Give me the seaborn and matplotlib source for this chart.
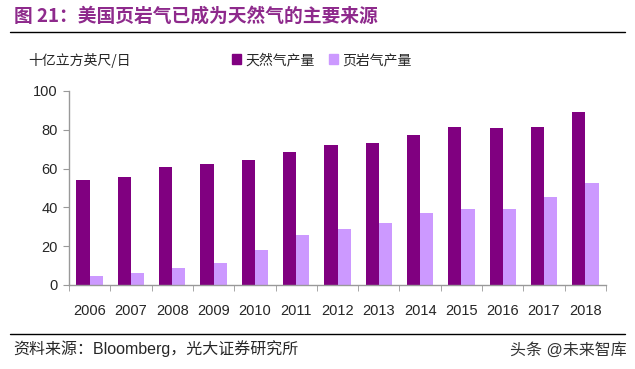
import numpy as np
import pandas as pd
import matplotlib
matplotlib.use("Agg")
import matplotlib.pyplot as plt
import seaborn as sns
from matplotlib.lines import Line2D
from matplotlib.patches import Patch

years = ["2006", "2007", "2008", "2009", "2010", "2011", "2012",
         "2013", "2014", "2015", "2016", "2017", "2018"]
natural_gas = [54.1, 55.7, 60.8, 62.4, 64.4, 68.6, 72.2,
               73.2, 77.3, 81.4, 80.9, 81.4, 89.2]
shale_gas = [4.5, 6.2, 8.8, 11.3, 18.0, 25.8, 28.9,
             32.0, 37.1, 39.2, 39.2, 45.4, 52.6]
series_names = ["天然气产量", "页岩气产量"]
colors = ["#800080", "#CC99FF"]

sns.set_style("white")
plt.rcParams["font.family"] = ["Liberation Sans", "Noto Sans CJK SC"]

df = pd.DataFrame({
    "year": years * 2,
    "value": natural_gas + shale_gas,
    "series": [series_names[0]] * len(years) + [series_names[1]] * len(years),
})

fig = plt.figure(figsize=(6.35, 3.69), dpi=100)
ax = fig.add_axes([69 / 635, 1 - 285 / 369, (606 - 69) / 635, (285 - 91) / 369])

sns.barplot(data=df, x="year", y="value", hue="series", hue_order=series_names,
            palette=colors, width=0.64, gap=0, saturation=1, ax=ax,
            legend=False, edgecolor="none")

ax.set_ylim(0, 100)
ax.set_xlim(-0.5, len(years) - 0.5)
ax.set_yticks(range(0, 101, 20))
ax.set_xlabel("")
ax.set_ylabel("")
for s in ["top", "right"]:
    ax.spines[s].set_visible(False)
for s in ["left", "bottom"]:
    ax.spines[s].set_color("#999999")
    ax.spines[s].set_linewidth(1)
ax.tick_params(axis="y", length=4, color="#999999", labelsize=10.5, pad=4,
               left=True, direction="out")
ax.tick_params(axis="x", length=0, labelsize=10.5, pad=14)
# tick marks between categories
ax.set_xticks(np.arange(-0.5, len(years), 1), minor=True)
ax.tick_params(axis="x", which="minor", length=4, color="#999999",
               bottom=True, direction="out")

# legend
handles = [Patch(facecolor=c, edgecolor=c) for c in colors]
fig.legend(handles, series_names, loc="center left",
           bbox_to_anchor=(219 / 635, 1 - 60 / 369), ncol=2, frameon=False,
           handlelength=0.7, handleheight=0.7, handletextpad=0.3,
           columnspacing=1.0,
           prop={"family": ["Noto Sans CJK SC"], "size": 10})

# title and annotations
fig.text(14 / 635, 1 - 16 / 369, "图 21：美国页岩气已成为天然气的主要来源",
         color="#8E2A8C", fontsize=13.5, fontweight="bold", va="center",
         family=["Noto Sans CJK SC"])
fig.add_artist(Line2D([10 / 635, 625 / 635], [1 - 32 / 369, 1 - 32 / 369],
                      color="black", linewidth=1))
fig.text(28 / 635, 1 - 60 / 369, "十亿立方英尺/日", fontsize=10, va="center",
         family=["Noto Sans CJK SC"])
fig.add_artist(Line2D([10 / 635, 625 / 635], [1 - 334 / 369, 1 - 334 / 369],
                      color="black", linewidth=1))
fig.text(13 / 635, 1 - 349 / 369, "资料来源：Bloomberg，光大证券研究所",
         fontsize=11.5, va="center")
fig.text(627 / 635, 1 - 350 / 369, "头条 @未来智库", fontsize=11.5,
         va="center", ha="right", color="#333333")

fig.savefig("out.png", dpi=100)
